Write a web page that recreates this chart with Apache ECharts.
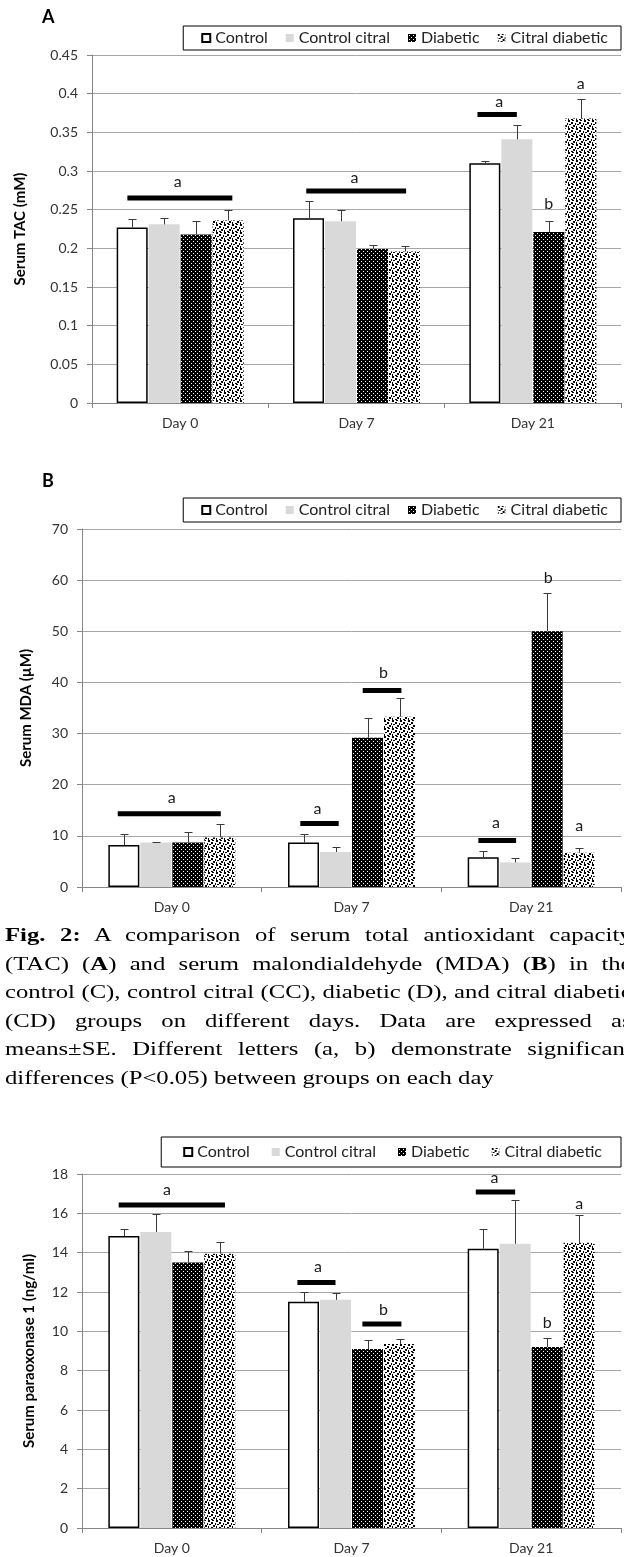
<!DOCTYPE html>
<html>
<head>
<meta charset="utf-8">
<script src="https://cdn.jsdelivr.net/npm/echarts@6/dist/echarts.min.js"></script>
<style>
  html, body { margin: 0; padding: 0; background: #fff; overflow: hidden; }
  #main { position: absolute; left: 0; top: 0; width: 624px; height: 1557px; }
  #caption {
    position: absolute; left: 5px; top: 921px; width: 482px;
    font-family: "Liberation Serif", serif; font-size: 19px; line-height: 28.5px; color: #000;
    transform-origin: 0 0; transform: scaleX(1.3);
  }
  #caption div { text-align: justify; text-align-last: justify; }
  #caption div.last { text-align-last: left; }
</style>
</head>
<body>
<div id="main"></div>
<div id="caption">
  <div><b>Fig. 2:</b> A comparison of serum total antioxidant capacity</div>
  <div>(TAC) (<b>A</b>) and serum malondialdehyde (MDA) (<b>B</b>) in the</div>
  <div>control (C), control citral (CC), diabetic (D), and citral diabetic</div>
  <div>(CD) groups on different days. Data are expressed as</div>
  <div>means&plusmn;SE. Different letters (a, b) demonstrate significant</div>
  <div class="last">differences (P&lt;0.05) between groups on each day</div>
</div>
<script>
var days = ['Day 0', 'Day 7', 'Day 21'];
var groups = ['Control', 'Control citral', 'Diabetic', 'Citral diabetic'];

// A: serum TAC (mM)
var tacControl = [0.227, 0.239, 0.310];
var tacControlCitral = [0.231, 0.235, 0.341];
var tacDiabetic = [0.218, 0.199, 0.221];
var tacCitralDiabetic = [0.236, 0.196, 0.368];
var tacControlSE = [0.011, 0.022, 0.003];
var tacControlCitralSE = [0.008, 0.015, 0.019];
var tacDiabeticSE = [0.017, 0.005, 0.014];
var tacCitralDiabeticSE = [0.014, 0.007, 0.025];
// [day, from bar, to bar, y] and [day, bar position, y, letter]
var tacLines = [[0, -0.15, 3.13, 0.265], [1, -0.07, 3.05, 0.274], [2, -0.23, 1.0, 0.373]];
var tacLetters = [[0, 1.42, 0.286, 'a'], [1, 1.44, 0.291, 'a'], [2, 0.45, 0.389, 'a'], [2, 2, 0.257, 'b'], [2, 3, 0.413, 'a']];

// B: serum MDA (µM)
var mdaControl = [8.2, 8.7, 5.8];
var mdaControlCitral = [8.7, 6.85, 4.8];
var mdaDiabetic = [8.7, 29.2, 50.0];
var mdaCitralDiabetic = [9.7, 33.3, 6.7];
var mdaControlSE = [2.1, 1.6, 1.3];
var mdaControlCitralSE = [0.1, 1.0, 0.9];
var mdaDiabeticSE = [2.1, 3.8, 7.5];
var mdaCitralDiabeticSE = [2.6, 3.6, 0.9];
var mdaLines = [[0, -0.19, 3.03, 14.3], [1, -0.1, 1.1, 12.4], [1, 1.85, 3.06, 38.4], [2, -0.15, 1.03, 9.1]];
var mdaLetters = [[0, 1.5, 17.4, 'a'], [1, 0.44, 15.3, 'a'], [1, 2.5, 41.9, 'b'], [2, 0.4, 12.5, 'a'], [2, 2.03, 60.5, 'b'], [2, 3, 11.9, 'a']];

// C: serum paraoxonase 1 (ng/ml)
var ponControl = [14.85, 11.5, 14.2];
var ponControlCitral = [15.05, 11.6, 14.45];
var ponDiabetic = [13.5, 9.1, 9.2];
var ponCitralDiabetic = [13.95, 9.35, 14.5];
var ponControlSE = [0.37, 0.5, 1.0];
var ponControlCitralSE = [0.9, 0.37, 2.25];
var ponDiabeticSE = [0.56, 0.47, 0.48];
var ponCitralDiabeticSE = [0.59, 0.25, 1.4];
var ponLines = [[0, -0.16, 3.16, 16.42], [1, -0.19, 1.0, 12.48], [1, 1.84, 3.06, 10.37], [2, -0.23, 1.0, 17.08]];
var ponLetters = [[0, 1.35, 17.17, 'a'], [1, 0.45, 13.27, 'a'], [1, 2.5, 11.1, 'b'], [2, 0.35, 17.78, 'a'], [2, 2, 10.42, 'b'], [2, 3, 16.47, 'a']];

var font = 'Lato';
var barW = 31;
var step = 32;   // bar width + gap

function makePattern(bg, fg, dots, size) {
  var c = document.createElement('canvas');
  c.width = size; c.height = size;
  var g = c.getContext('2d');
  g.fillStyle = bg; g.fillRect(0, 0, size, size);
  g.fillStyle = fg;
  dots.forEach(function (d) { g.fillRect(d[0], d[1], d[2], d[3]); });
  return c;
}
var diabeticFill = { image: makePattern('#000', '#fff', [[1, 1, 1, 1], [3, 3, 1, 1]], 4), repeat: 'repeat' };
var citralDiabeticFill = {
  image: makePattern('#fff', '#000', [[0, 0, 2, 2], [4, 0, 2, 1], [3, 2, 2, 2], [7, 3, 1, 2], [1, 4, 2, 1], [5, 5, 2, 2], [0, 6, 1, 2], [3, 7, 2, 1]], 8),
  repeat: 'repeat'
};
var barStyles = [
  { color: '#fff', borderColor: '#000', borderWidth: 1.5 },
  { color: '#d9d9d9' },
  { color: diabeticFill },
  { color: citralDiabeticFill }
];

var grids = [], xAxes = [], yAxes = [], legends = [], series = [];

function xPos(center, pos) { return center + (pos - 1.5) * step; }

function addPanel(k, p) {
  grids.push({ left: p.left, right: 3, top: p.top, height: p.height });
  xAxes.push({
    type: 'category', gridIndex: k, data: days,
    axisLine: { lineStyle: { color: '#868686' } },
    axisTick: { show: true, length: 5, lineStyle: { color: '#868686' } },
    axisLabel: { fontFamily: font, fontSize: 14, color: '#333', margin: 13 }
  });
  yAxes.push({
    type: 'value', gridIndex: k, min: 0, max: p.max, interval: p.interval,
    name: p.yName, nameLocation: 'middle', nameRotate: 90, nameGap: p.nameGap,
    nameTextStyle: { fontFamily: font, fontWeight: 'bold', fontSize: 15, color: '#000' },
    axisLine: { show: true, lineStyle: { color: '#868686' } },
    axisTick: { show: true, length: 5, lineStyle: { color: '#868686' } },
    axisLabel: { fontFamily: font, fontSize: 14, color: '#333', margin: 14 },
    splitLine: { lineStyle: { color: '#a6a6a6' } }
  });
  legends.push({
    right: 3, top: p.legendTop, data: groups, icon: 'rect',
    itemWidth: 8, itemHeight: 8, itemGap: p.legendGap, padding: p.legendPad,
    borderColor: '#000', borderWidth: 1, backgroundColor: '#fff', selectedMode: false,
    textStyle: { fontFamily: font, fontSize: 16, color: '#222', lineHeight: 16 }
  });
  p.values.forEach(function (vals, i) {
    series.push({
      type: 'bar', name: groups[i], xAxisIndex: k, yAxisIndex: k, data: vals,
      barWidth: barW, barGap: '3.2%', itemStyle: barStyles[i], emphasis: { disabled: true }, silent: true
    });
  });
  var err = [];
  p.values.forEach(function (vals, i) {
    vals.forEach(function (v, c) { err.push([c, i, v, p.errors[i][c]]); });
  });
  series.push({
    type: 'custom', xAxisIndex: k, yAxisIndex: k, data: err, z: 5, silent: true,
    encode: { x: 0, y: 2 },
    renderItem: function (params, api) {
      var b = api.coord([api.value(0), api.value(2)]);
      var t = api.coord([api.value(0), api.value(2) + api.value(3)]);
      var x = Math.round(xPos(b[0], api.value(1))) + 0.5;
      var yt = Math.round(t[1]) + 0.5;
      var st = { stroke: '#3a3a3a', lineWidth: 1 };
      return { type: 'group', children: [
        { type: 'line', shape: { x1: x, y1: b[1], x2: x, y2: yt }, style: st },
        { type: 'line', shape: { x1: x - 4, y1: yt, x2: x + 4, y2: yt }, style: st }
      ] };
    }
  });
  series.push({
    type: 'custom', xAxisIndex: k, yAxisIndex: k, data: p.lines, z: 6, silent: true,
    encode: { x: 0, y: 3 },
    renderItem: function (params, api) {
      var c = api.coord([api.value(0), api.value(3)]);
      var x1 = xPos(c[0], api.value(1)), x2 = xPos(c[0], api.value(2));
      return { type: 'rect', shape: { x: x1, y: c[1] - 2.5, width: x2 - x1, height: 5 }, style: { fill: '#000' } };
    }
  });
  series.push({
    type: 'custom', xAxisIndex: k, yAxisIndex: k, data: p.letters.map(function (d) { return [d[0], d[1], d[2]]; }),
    z: 6, silent: true, encode: { x: 0, y: 2 },
    renderItem: function (params, api) {
      var item = p.letters[params.dataIndex];
      var c = api.coord([item[0], item[2]]);
      return { type: 'text', x: xPos(c[0], item[1]), y: c[1],
        style: { text: item[3], fill: '#1a1a1a', fontFamily: font, fontSize: 16, align: 'center', verticalAlign: 'middle' } };
    }
  });
}

addPanel(0, {
  left: 92, top: 55, height: 348, max: 0.45, interval: 0.05, yName: 'Serum TAC (mM)', nameGap: 64,
  legendTop: 26, legendGap: 18, legendPad: [4, 13, 4, 18],
  values: [tacControl, tacControlCitral, tacDiabetic, tacCitralDiabetic],
  errors: [tacControlSE, tacControlCitralSE, tacDiabeticSE, tacCitralDiabeticSE],
  lines: tacLines, letters: tacLetters
});
addPanel(1, {
  left: 82, top: 529, height: 358, max: 70, interval: 10, yName: 'Serum MDA (\u00b5M)', nameGap: 48,
  legendTop: 498, legendGap: 18, legendPad: [4, 13, 4, 18],
  values: [mdaControl, mdaControlCitral, mdaDiabetic, mdaCitralDiabetic],
  errors: [mdaControlSE, mdaControlCitralSE, mdaDiabeticSE, mdaCitralDiabeticSE],
  lines: mdaLines, letters: mdaLetters
});
addPanel(2, {
  left: 82, top: 1174, height: 354, max: 18, interval: 2, yName: 'Serum paraoxonase 1 (ng/ml)', nameGap: 45,
  legendTop: 1137, legendGap: 22, legendPad: [7, 19, 7, 22],
  values: [ponControl, ponControlCitral, ponDiabetic, ponCitralDiabetic],
  errors: [ponControlSE, ponControlCitralSE, ponDiabeticSE, ponCitralDiabeticSE],
  lines: ponLines, letters: ponLetters
});

var chart = echarts.init(document.getElementById('main'));
chart.setOption({
  animation: false,
  backgroundColor: '#fff',
  title: [
    { text: 'A', left: 42, top: 8, padding: 0, textStyle: { fontFamily: font, fontWeight: 'bold', fontSize: 18, color: '#000' } },
    { text: 'B', left: 42, top: 472, padding: 0, textStyle: { fontFamily: font, fontWeight: 'bold', fontSize: 18, color: '#000' } }
  ],
  grid: grids,
  xAxis: xAxes,
  yAxis: yAxes,
  legend: legends,
  series: series
});
</script>
</body>
</html>
